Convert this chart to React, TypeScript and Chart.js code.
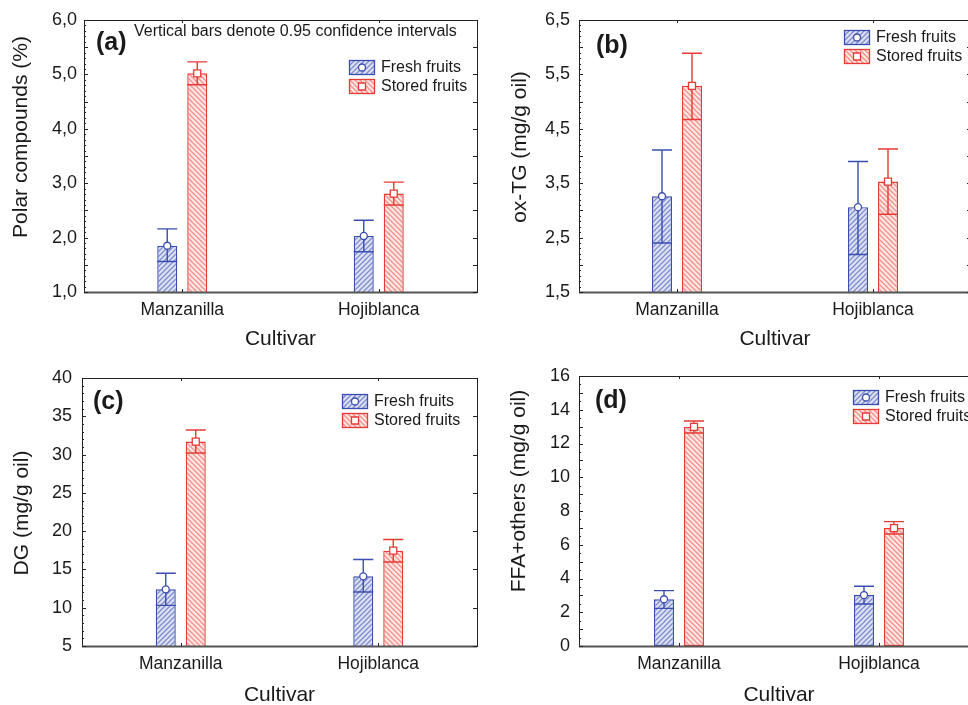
import React, { useEffect, useRef } from 'react';
import { Chart, registerables } from 'chart.js';

Chart.register(...registerables);

// ---------- DATA ----------
const categories = ['Manzanilla', 'Hojiblanca'];
const seriesLabels = ['Fresh fruits', 'Stored fruits'];

// (a) Polar compounds (%)
const polarFresh = [1.85, 2.03];
const polarFreshUpper = [2.16, 2.32];
const polarFreshLower = [1.56, 1.74];
const polarStored = [5.02, 2.81];
const polarStoredUpper = [5.23, 3.02];
const polarStoredLower = [4.81, 2.6];
const polarTicks = [1, 2, 3, 4, 5, 6];

// (b) ox-TG (mg/g oil)
const oxtgFresh = [3.26, 3.06];
const oxtgFreshUpper = [4.11, 3.9];
const oxtgFreshLower = [2.4, 2.19];
const oxtgStored = [5.29, 3.53];
const oxtgStoredUpper = [5.89, 4.13];
const oxtgStoredLower = [4.67, 2.93];
const oxtgTicks = [1.5, 2.5, 3.5, 4.5, 5.5, 6.5];

// (c) DG (mg/g oil)
const dgFresh = [12.4, 14.1];
const dgFreshUpper = [14.5, 16.3];
const dgFreshLower = [10.3, 12.05];
const dgStored = [31.7, 17.45];
const dgStoredUpper = [33.2, 18.9];
const dgStoredLower = [30.2, 15.97];
const dgTicks = [5, 10, 15, 20, 25, 30, 35, 40];

// (d) FFA+others (mg/g oil)
const ffaFresh = [2.77, 3.02];
const ffaFreshUpper = [3.28, 3.54];
const ffaFreshLower = [2.23, 2.49];
const ffaStored = [12.98, 6.99];
const ffaStoredUpper = [13.33, 7.37];
const ffaStoredLower = [12.62, 6.64];
const ffaTicks = [0, 2, 4, 6, 8, 10, 12, 14, 16];

const xTitle = 'Cultivar';
const noteText = 'Vertical bars denote 0.95 confidence intervals';

// ---------- STYLE ----------
const FONT = '"Liberation Sans", Arial, Helvetica, sans-serif';
const BLUE = '#3a4db0';
const RED = '#e83a34';
const TEXT = '#1a1a1a';

function makePattern(bg: string, line: string, dir: 1 | -1): CanvasPattern | string {
  const s = 5;
  const c = document.createElement('canvas');
  c.width = s;
  c.height = s;
  const g = c.getContext('2d');
  if (!g) return bg;
  g.fillStyle = bg;
  g.fillRect(0, 0, s, s);
  g.strokeStyle = line;
  g.lineWidth = 1.3;
  g.beginPath();
  if (dir === 1) {
    for (let k = -1; k <= 1; k++) {
      g.moveTo(k * s - 1, s + 1);
      g.lineTo(k * s + s + 1, -1);
    }
  } else {
    for (let k = -1; k <= 1; k++) {
      g.moveTo(k * s - 1, -1);
      g.lineTo(k * s + s + 1, s + 1);
    }
  }
  g.stroke();
  const p = g.createPattern(c, 'repeat');
  return p || bg;
}

type Panel = {
  key: string;
  label: string;
  yTitle: string;
  fresh: number[];
  freshUp: number[];
  freshLo: number[];
  stored: number[];
  storedUp: number[];
  storedLo: number[];
  ticks: number[];
  decimals: number;
  midStep: number;
  minorStep: number;
  note?: string;
  left: number;
  top: number;
  width: number;
  height: number;
  yAxisWidth: number;
  padTop: number;
  padRight: number;
  xAxisHeight: number;
  yTickPad: number;
  legendDx: number;
  legendDy: number;
  labelDx: number;
  labelDy: number;
  yTitleX: number;
  yTitleY: number;
};

const panels: Panel[] = [
  {
    key: 'a', label: '(a)', yTitle: 'Polar compounds (%)',
    fresh: polarFresh, freshUp: polarFreshUpper, freshLo: polarFreshLower,
    stored: polarStored, storedUp: polarStoredUpper, storedLo: polarStoredLower,
    ticks: polarTicks, decimals: 1, midStep: 0.5, minorStep: 0.1, note: noteText,
    left: 0, top: 0, width: 484, height: 356, yAxisWidth: 84, padTop: 20, padRight: 7, xAxisHeight: 64,
    yTickPad: 7, legendDx: 265, legendDy: 40, labelDx: 12, labelDy: 23, yTitleX: 21, yTitleY: 137,
  },
  {
    key: 'b', label: '(b)', yTitle: 'ox-TG (mg/g oil)',
    fresh: oxtgFresh, freshUp: oxtgFreshUpper, freshLo: oxtgFreshLower,
    stored: oxtgStored, storedUp: oxtgStoredUpper, storedLo: oxtgStoredLower,
    ticks: oxtgTicks, decimals: 1, midStep: 0.5, minorStep: 0.1,
    left: 495, top: 0, width: 484, height: 356, yAxisWidth: 84, padTop: 20, padRight: 8, xAxisHeight: 64,
    yTickPad: 9, legendDx: 265, legendDy: 10, labelDx: 17, labelDy: 26, yTitleX: 520, yTitleY: 147,
  },
  {
    key: 'c', label: '(c)', yTitle: 'DG (mg/g oil)',
    fresh: dgFresh, freshUp: dgFreshUpper, freshLo: dgFreshLower,
    stored: dgStored, storedUp: dgStoredUpper, storedLo: dgStoredLower,
    ticks: dgTicks, decimals: 0, midStep: 2.5, minorStep: 1,
    left: 0, top: 356, width: 484, height: 356, yAxisWidth: 82, padTop: 22, padRight: 7, xAxisHeight: 66,
    yTickPad: 10, legendDx: 260, legendDy: 16, labelDx: 11, labelDy: 24, yTitleX: 22, yTitleY: 513,
  },
  {
    key: 'd', label: '(d)', yTitle: 'FFA+others (mg/g oil)',
    fresh: ffaFresh, freshUp: ffaFreshUpper, freshLo: ffaFreshLower,
    stored: ffaStored, storedUp: ffaStoredUpper, storedLo: ffaStoredLower,
    ticks: ffaTicks, decimals: 0, midStep: 1, minorStep: 0.5,
    left: 495, top: 356, width: 484, height: 356, yAxisWidth: 84, padTop: 20, padRight: 0, xAxisHeight: 66,
    yTickPad: 9, legendDx: 274, legendDy: 14, labelDx: 16, labelDy: 25, yTitleX: 519, yTitleY: 491,
  },
];

function drawMarker(ctx: CanvasRenderingContext2D, shape: string, x: number, y: number, col: string) {
  ctx.save();
  ctx.fillStyle = '#fff';
  ctx.strokeStyle = col;
  ctx.lineWidth = 1.3;
  ctx.beginPath();
  if (shape === 'circle') {
    ctx.arc(x, y, 3.5, 0, Math.PI * 2);
  } else {
    ctx.rect(x - 3.5, y - 3.5, 7, 7);
  }
  ctx.fill();
  ctx.stroke();
  ctx.restore();
}

function makeDecor(p: Panel, fills: (CanvasPattern | string)[]) {
  return {
    id: 'decor' + p.key,
    afterDatasetsDraw(chart: any) {
      const ctx: CanvasRenderingContext2D = chart.ctx;
      const ys = chart.scales.y;
      const xs = chart.scales.x;
      const { left, right, top, bottom } = chart.chartArea;
      const sets: [number[], number[], string, string][] = [
        [p.freshUp, p.freshLo, BLUE, 'circle'],
        [p.storedUp, p.storedLo, RED, 'square'],
      ];
      ctx.save();
      sets.forEach(([up, lo, col, shape], i) => {
        const meta = chart.getDatasetMeta(i);
        meta.data.forEach((bar: any, j: number) => {
          const { x, y, width } = bar.getProps(['x', 'y', 'width'], true);
          const yu = ys.getPixelForValue(up[j]);
          const yl = ys.getPixelForValue(lo[j]);
          ctx.strokeStyle = col;
          ctx.lineWidth = 1.4;
          ctx.beginPath();
          ctx.moveTo(x, yu);
          ctx.lineTo(x, yl);
          ctx.moveTo(x - width / 2, yu);
          ctx.lineTo(x + width / 2, yu);
          ctx.moveTo(x - width / 2, yl);
          ctx.lineTo(x + width / 2, yl);
          ctx.stroke();
          drawMarker(ctx, shape, x, y, col);
        });
      });

      // frame
      ctx.strokeStyle = '#222';
      ctx.lineWidth = 1;
      ctx.strokeRect(Math.round(left) + 0.5, Math.round(top) + 0.5, Math.round(right - left), Math.round(bottom - top));
      ctx.strokeStyle = '#555';
      ctx.lineWidth = 2;
      ctx.beginPath();
      ctx.moveTo(left, Math.round(bottom) + 0.5);
      ctx.lineTo(right, Math.round(bottom) + 0.5);
      ctx.stroke();

      // inner ticks
      ctx.strokeStyle = '#222';
      ctx.lineWidth = 1;
      const min = p.ticks[0];
      const max = p.ticks[p.ticks.length - 1];
      const nMinor = Math.round((max - min) / p.minorStep);
      for (let k = 0; k <= nMinor; k++) {
        const v = min + k * p.minorStep;
        const py = Math.round(ys.getPixelForValue(v)) + 0.5;
        const isMid = Math.abs(v / p.midStep - Math.round(v / p.midStep)) < 1e-6;
        const len = isMid ? 4 : 2;
        ctx.beginPath();
        ctx.moveTo(left, py);
        ctx.lineTo(left + len, py);
        if (isMid) {
          ctx.moveTo(right, py);
          ctx.lineTo(right - len, py);
        }
        ctx.stroke();
      }
      categories.forEach((_, i) => {
        const px = Math.round(xs.getPixelForValue(i)) + 0.5;
        ctx.beginPath();
        ctx.moveTo(px, bottom);
        ctx.lineTo(px, bottom - 3);
        ctx.moveTo(px, top);
        ctx.lineTo(px, top + 3);
        ctx.stroke();
      });

      // panel label
      ctx.fillStyle = TEXT;
      ctx.font = `bold 25px ${FONT}`;
      ctx.textAlign = 'left';
      ctx.textBaseline = 'middle';
      ctx.fillText(p.label, left + p.labelDx, top + p.labelDy);

      if (p.note) {
        ctx.font = `16px ${FONT}`;
        ctx.fillText(p.note, left + 50, top + 12);
      }

      // legend
      const lx = left + p.legendDx;
      const ly = top + p.legendDy;
      const shapes = ['circle', 'square'];
      const cols = [BLUE, RED];
      seriesLabels.forEach((lab, i) => {
        const by = ly + i * 19;
        ctx.fillStyle = fills[i] as any;
        ctx.fillRect(lx, by, 26, 15);
        ctx.strokeStyle = cols[i];
        ctx.lineWidth = 1.3;
        ctx.strokeRect(lx + 0.5, by + 0.5, 25, 14);
        drawMarker(ctx, shapes[i], lx + 13, by + 7.5, cols[i]);
        ctx.fillStyle = TEXT;
        ctx.font = `16px ${FONT}`;
        ctx.textBaseline = 'middle';
        ctx.fillText(lab, lx + 32, by + 8);
      });

      // y title
      ctx.save();
      ctx.translate(p.yTitleX - p.left, p.yTitleY - p.top);
      ctx.rotate(-Math.PI / 2);
      ctx.font = `21px ${FONT}`;
      ctx.textAlign = 'center';
      ctx.textBaseline = 'middle';
      ctx.fillStyle = TEXT;
      ctx.fillText(p.yTitle, 0, 0);
      ctx.restore();

      ctx.restore();
    },
  };
}

function PanelChart({ p }: { p: Panel }) {
  const ref = useRef<HTMLCanvasElement | null>(null);
  useEffect(() => {
    if (!ref.current) return;
    const fills = [
      makePattern('#dde1f3', '#7f8dcc', 1),
      makePattern('#fde6e4', '#f0918c', -1),
    ];
    const plotWidth = p.width - p.yAxisWidth - p.padRight;
    const catPct = 60 / (plotWidth / 2);
    const chart = new Chart(ref.current, {
      type: 'bar',
      data: {
        labels: categories,
        datasets: [
          {
            label: seriesLabels[0],
            data: p.fresh,
            backgroundColor: fills[0] as any,
            borderColor: BLUE,
            borderWidth: 1.4,
            borderSkipped: false,
            categoryPercentage: catPct,
            barPercentage: 2 / 3,
          },
          {
            label: seriesLabels[1],
            data: p.stored,
            backgroundColor: fills[1] as any,
            borderColor: RED,
            borderWidth: 1.4,
            borderSkipped: false,
            categoryPercentage: catPct,
            barPercentage: 2 / 3,
          },
        ],
      },
      options: {
        responsive: false,
        animation: false,
        devicePixelRatio: 1,
        layout: { padding: { top: p.padTop, right: p.padRight, left: 0, bottom: 0 } },
        plugins: { legend: { display: false }, tooltip: { enabled: false }, title: { display: false } },
        scales: {
          x: {
            type: 'category',
            offset: true,
            grid: { display: false, drawTicks: false },
            border: { display: false },
            ticks: { padding: 8, color: TEXT, font: { size: 17.5, family: FONT } },
            title: { display: true, text: xTitle, color: TEXT, font: { size: 21, family: FONT }, padding: { top: 0, bottom: 4 } },
            afterFit: (s: any) => { s.height = p.xAxisHeight; },
          },
          y: {
            type: 'linear',
            min: p.ticks[0],
            max: p.ticks[p.ticks.length - 1],
            grid: { display: false, drawTicks: false },
            border: { display: false },
            afterBuildTicks: (s: any) => { s.ticks = p.ticks.map((v) => ({ value: v })); },
            ticks: {
              padding: p.yTickPad,
              color: TEXT,
              font: { size: 18, family: FONT },
              callback: (v: any) => Number(v).toFixed(p.decimals).replace('.', ','),
            },
            afterFit: (s: any) => { s.width = p.yAxisWidth; },
          },
        },
      },
      plugins: [makeDecor(p, fills)],
    });
    return () => chart.destroy();
  }, [p]);
  return (
    <canvas
      ref={ref}
      width={p.width}
      height={p.height}
      style={{ position: 'absolute', left: p.left, top: p.top, width: p.width, height: p.height }}
    />
  );
}

export default function App() {
  return (
    <div style={{ position: 'absolute', left: 0, top: 0, width: 968, height: 705, overflow: 'hidden', background: '#fff' }}>
      {panels.map((p) => (
        <PanelChart key={p.key} p={p} />
      ))}
    </div>
  );
}
